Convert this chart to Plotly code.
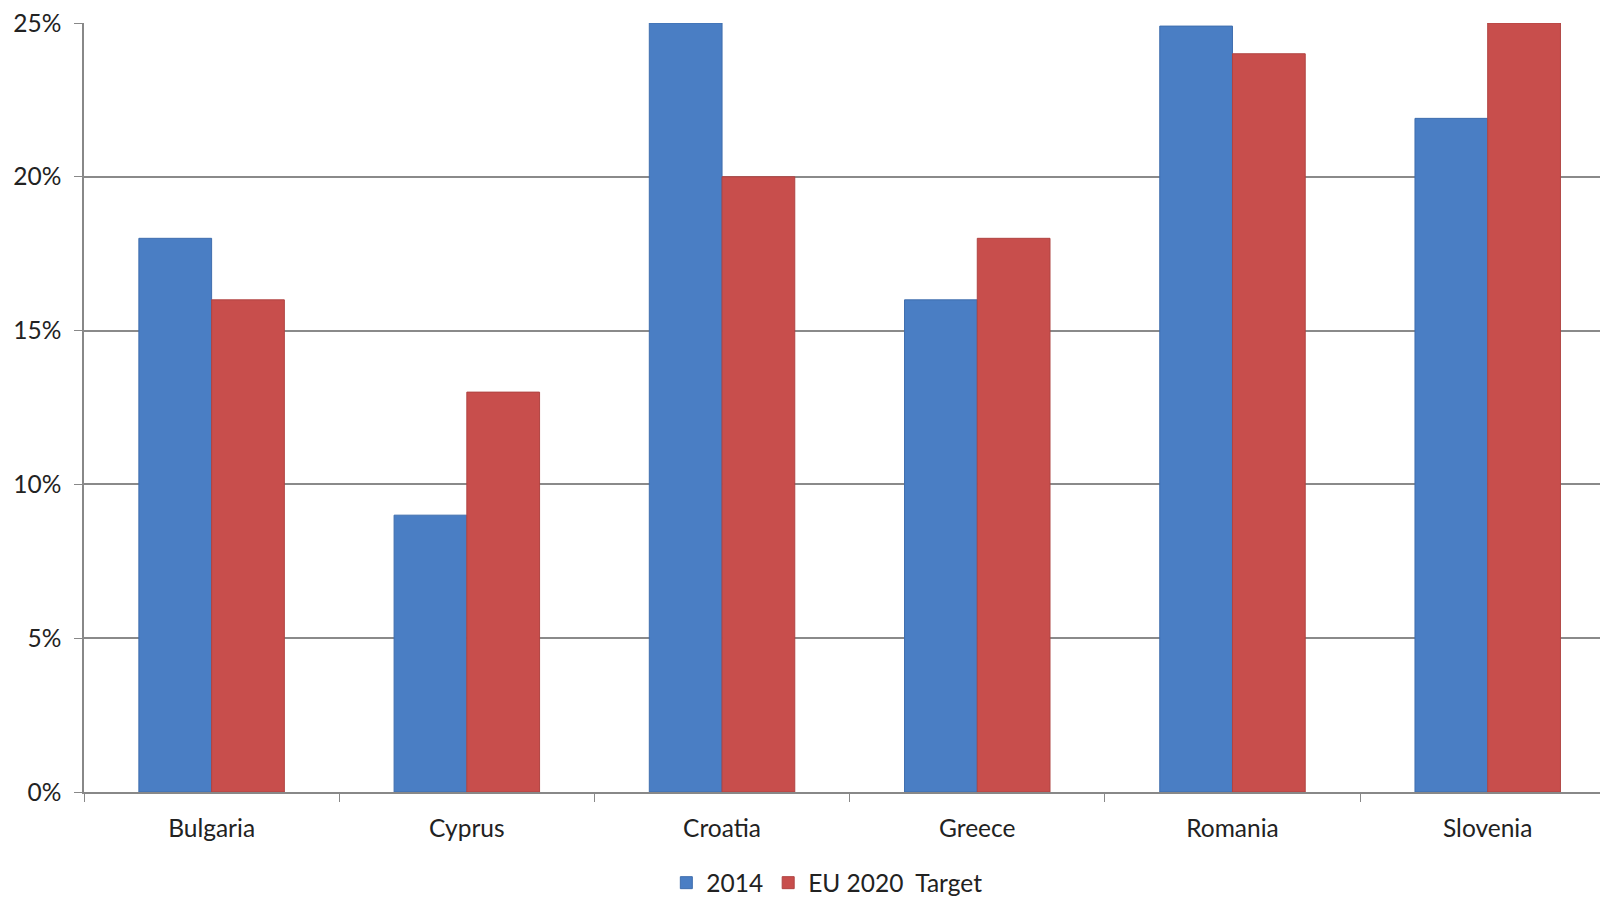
import plotly.graph_objects as go

countries = ["Bulgaria", "Cyprus", "Croatia", "Greece", "Romania", "Slovenia"]
share_2014 = [18.0, 9.0, 25.0, 16.0, 24.9, 21.9]
target_2020 = [16.0, 13.0, 20.0, 18.0, 24.0, 25.0]
y_ticks = [0, 5, 10, 15, 20, 25]
y_tick_labels = ["0%", "5%", "10%", "15%", "20%", "25%"]

font_family = "Lato, 'Open Sans', sans-serif"

fig = go.Figure()
fig.add_trace(go.Bar(
    x=countries, y=share_2014, name="2014",
    marker=dict(color="#4A7EC4", line=dict(color="#3F6EAE", width=1)),
))
fig.add_trace(go.Bar(
    x=countries, y=target_2020, name="EU 2020  Target",
    marker=dict(color="#C84E4C", line=dict(color="#B04442", width=1)),
))

fig.update_layout(
    width=1600, height=898,
    margin=dict(l=84, r=0, t=23, b=106, autoexpand=False),
    paper_bgcolor="white", plot_bgcolor="white",
    barmode="group", bargap=0.43, bargroupgap=0,
    font=dict(family=font_family, size=24.5, color="#222222"),
    showlegend=True,
    legend=dict(orientation="h", x=0.49, xanchor="center", y=-0.118, yanchor="middle",
                font=dict(size=24.5), itemwidth=30, traceorder="normal"),
)
# the last category group runs slightly past the right edge of the page
fig.update_xaxes(
    range=[-0.5, 5.44], automargin=False,
    showline=True, linecolor="#888888", linewidth=1.5,
    ticks="outside", tickson="boundaries", ticklen=8, tickcolor="#888888",
    showgrid=False, tickfont=dict(size=24.5), ticklabelstandoff=14,
)
fig.update_yaxes(
    range=[0, 25], tickvals=y_ticks, ticktext=y_tick_labels, automargin=False,
    showline=True, linecolor="#888888", linewidth=1.5,
    ticks="outside", ticklen=8, tickcolor="#888888",
    showgrid=True, gridcolor="#8a8a8a", gridwidth=1.5,
    zeroline=False, tickfont=dict(size=24.5), ticklabelstandoff=8,
)

fig.write_html("out.html")
